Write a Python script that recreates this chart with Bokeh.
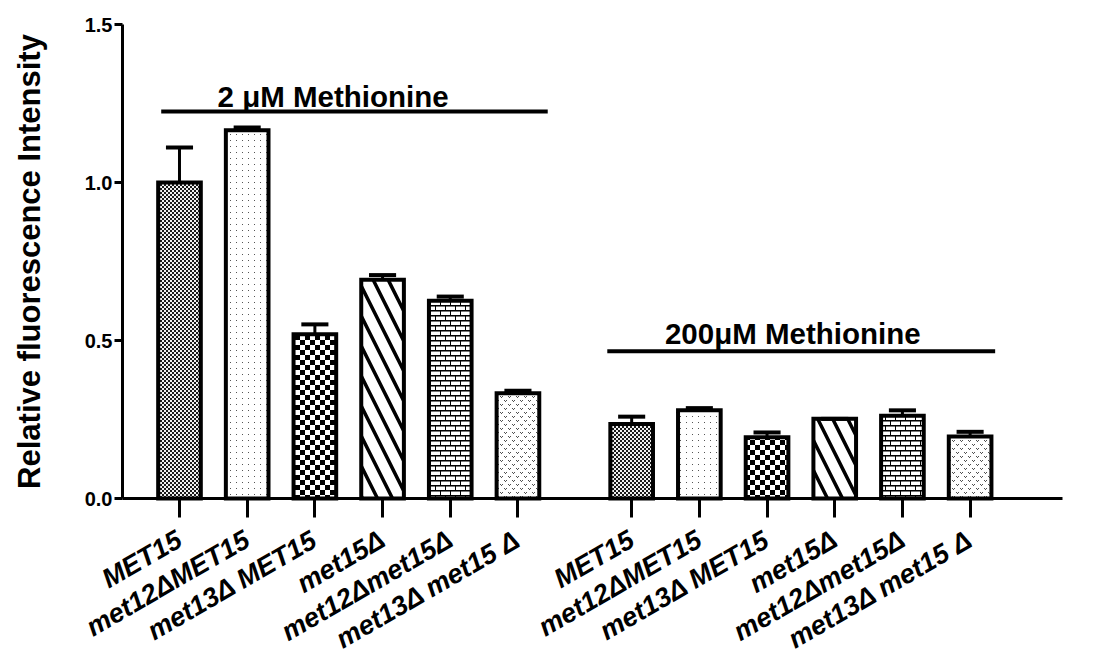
import math
from bokeh.plotting import figure
from bokeh.models import Range1d, FixedTicker, CanvasTexture, Label, NumeralTickFormatter, ColumnDataSource
from bokeh.core.properties import value
from bokeh.embed import file_html
from bokeh.resources import INLINE

# ---------------- data ----------------
strains = ["MET15", "met12\u0394MET15", "met13\u0394 MET15", "met15\u0394",
           "met12\u0394met15\u0394", "met13\u0394 met15 \u0394"]
groups = ["2 \u03bcM Methionine", "200\u03bcM Methionine"]
y_title = "Relative fluorescence Intensity"
low_mean = [1.00, 1.165, 0.520, 0.692, 0.626, 0.333]
low_err = [0.111, 0.009, 0.031, 0.015, 0.013, 0.008]
high_mean = [0.236, 0.279, 0.194, 0.252, 0.262, 0.196]
high_err = [0.023, 0.007, 0.015, 0.0, 0.017, 0.015]

# ---------------- layout constants ----------------
GROUP_OFFSET = 6.68
BAR_W = 0.63
CAP_HALF = 0.2
FONT = "Liberation Sans"
W, H = 1092, 654
PX_X, PX_Y = 67.69, 316.0          # pixels per data unit
Y_AXIS_AT = -0.842                  # x where the y axis is drawn
Y_MAX = 1.5
X_START = Y_AXIS_AT - 122 / PX_X
X_END = X_START + W / PX_X
X_AXIS_END = 13.04
Y_TOP = Y_MAX + 24 / PX_Y
Y_MIN = Y_TOP - H / PX_Y

pos_low = [float(i) for i in range(len(strains))]
pos_high = [round(i + GROUP_OFFSET, 3) for i in range(len(strains))]

# ---------------- fill textures (styles) ----------------
def tex(n, body):
    return ("const N = %d;\n"
            "try { ctx.canvas.width = N; ctx.canvas.height = N; } catch (e) {}\n"
            "ctx.setTransform(1, 0, 0, 1, 0, 0);\n" % n) + body

fine_checker = tex(4, """
ctx.fillStyle = '#f0f0f0'; ctx.fillRect(0, 0, 4, 4);
ctx.fillStyle = '#1a1a1a'; ctx.fillRect(0, 0, 2, 2); ctx.fillRect(2, 2, 2, 2);
""")
sparse_dots = tex(6, """
ctx.fillStyle = '#ffffff'; ctx.fillRect(0, 0, 6, 6);
ctx.fillStyle = '#555555'; ctx.fillRect(2, 2, 1, 1);
""")
coarse_checker = tex(10, """
ctx.fillStyle = '#ffffff'; ctx.fillRect(0, 0, 10, 10);
ctx.fillStyle = '#000000'; ctx.fillRect(0, 0, 5, 5); ctx.fillRect(5, 5, 5, 5);
""")
bricks = tex(20, """
ctx.fillStyle = '#ffffff'; ctx.fillRect(0, 0, 20, 20);
for (let r = 0; r < 4; r++) {
  const y = r * 5;
  ctx.fillStyle = '#000000'; ctx.fillRect(0, y, 20, 1);
  ctx.fillStyle = '#777777'; ctx.fillRect(0, y + 1, 20, 1);
  ctx.fillStyle = '#000000';
  const off = (r % 2 == 0) ? 0 : 5;
  ctx.fillRect(off, y, 1, 5); ctx.fillRect(off + 10, y, 1, 5);
}
""")
vmarks = tex(8, """
ctx.fillStyle = '#ffffff'; ctx.fillRect(0, 0, 8, 8);
ctx.fillStyle = '#505050';
ctx.fillRect(0, 0, 1, 1); ctx.fillRect(2, 0, 1, 1); ctx.fillRect(1, 1, 1, 1);
ctx.fillRect(4, 4, 1, 1); ctx.fillRect(6, 4, 1, 1); ctx.fillRect(5, 5, 1, 1);
""")
textures = [(fine_checker, 4), (sparse_dots, 6), (coarse_checker, 10), None, (bricks, 20), (vmarks, 8)]

p = figure(width=W, height=H, x_range=Range1d(X_START, X_END), y_range=Range1d(Y_MIN, Y_TOP),
           output_backend="svg", toolbar_location=None,
           min_border_left=0, min_border_right=0, min_border_top=0, min_border_bottom=0)
p.outline_line_color = None
p.xgrid.visible = False
p.ygrid.visible = False
p.background_fill_color = "white"

for i, name in enumerate(strains):
    src = ColumnDataSource(dict(x=[pos_low[i], pos_high[i]], top=[low_mean[i], high_mean[i]]))
    kw = dict(x="x", top="top", bottom=0, width=BAR_W, source=src, fill_color="white",
              line_color="black", line_width=4, line_join="miter")
    if textures[i] is None:
        kw.update(hatch_pattern=value("left_diagonal_line"), hatch_scale=30, hatch_weight=3.5,
                  hatch_color="black")
    else:
        code, sc = textures[i]
        kw.update(hatch_pattern=value("tex%d" % i), hatch_scale=sc,
                  hatch_extra={"tex%d" % i: CanvasTexture(code=code, repetition="repeat")})
    p.vbar(**kw)

# error bars (upper only)
xs = pos_low + pos_high
tops = low_mean + high_mean
errs = low_err + high_err
ends = [t + e for t, e in zip(tops, errs)]
p.segment(x0=xs, y0=tops, x1=xs, y1=ends, line_color="black", line_width=3)
p.segment(x0=[x - CAP_HALF for x in xs], y0=ends, x1=[x + CAP_HALF for x in xs], y1=ends,
          line_color="black", line_width=4)

# group brackets and titles
brackets = [(-0.27, 5.44, 1.225), (6.32, 12.05, 0.466)]
title_pos = [(2.27, 1.272), (9.06, 0.522)]
for (bx0, bx1, by), (tx, ty), g in zip(brackets, title_pos, groups):
    p.segment(x0=[bx0], y0=[by], x1=[bx1], y1=[by], line_color="black", line_width=4)
    p.add_layout(Label(x=tx, y=ty, text=g, text_align="center", text_baseline="alphabetic",
                       text_font=FONT, text_font_style="bold", text_font_size="29.5px",
                       text_color="black"))

# y axis, drawn inside the full-size frame
p.yaxis.fixed_location = Y_AXIS_AT
p.yaxis.bounds = (0, Y_MAX)
p.yaxis.ticker = FixedTicker(ticks=[0, 0.5, 1.0, 1.5])
p.yaxis.formatter = NumeralTickFormatter(format="0.0")
p.yaxis.axis_line_width = 3
p.yaxis.major_tick_line_width = 3
p.yaxis.major_tick_out = 8
p.yaxis.major_tick_in = 0
p.yaxis.minor_tick_line_color = None
p.yaxis.major_label_text_font = FONT
p.yaxis.major_label_text_font_style = "bold"
p.yaxis.major_label_text_font_size = "20px"
p.yaxis.major_label_text_color = "black"
p.yaxis.major_label_standoff = 2

p.add_layout(Label(x=Y_AXIS_AT - 93 / PX_X, y=Y_MAX / 2, text=y_title, angle=math.pi / 2,
                   text_align="center", text_baseline="middle", text_font=FONT,
                   text_font_style="bold", text_font_size="31px", text_color="black"))

# x axis drawn at y = 0
p.xaxis.fixed_location = 0
p.xaxis.bounds = (Y_AXIS_AT, X_AXIS_END)
p.xaxis.ticker = FixedTicker(ticks=xs)
p.xaxis.major_label_overrides = {x: s for x, s in zip(xs, strains + strains)}
p.xaxis.axis_line_width = 3
p.xaxis.major_tick_line_width = 3
p.xaxis.major_tick_out = 19
p.xaxis.major_tick_in = 0
p.xaxis.minor_tick_line_color = None
p.xaxis.major_label_orientation = math.pi / 6
p.xaxis.major_label_text_font = FONT
p.xaxis.major_label_text_font_style = "bold italic"
p.xaxis.major_label_text_font_size = "27px"
p.xaxis.major_label_text_color = "black"
p.xaxis.major_label_standoff = 20

open("out.html", "w").write(file_html(p, INLINE))
